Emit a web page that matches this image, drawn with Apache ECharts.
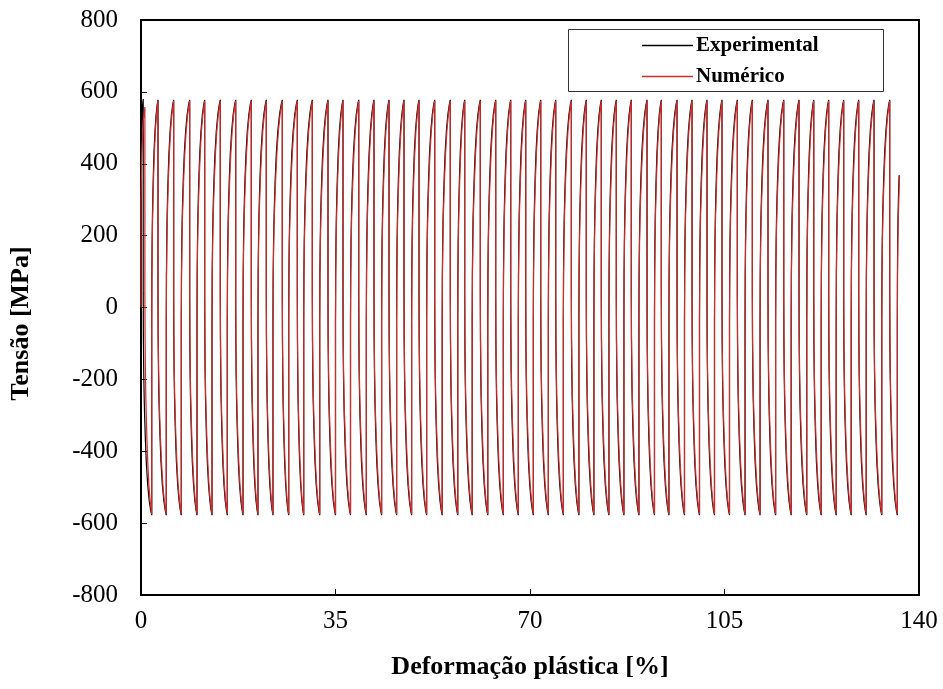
<!DOCTYPE html>
<html>
<head>
<meta charset="utf-8">
<script src="https://cdn.jsdelivr.net/npm/echarts@6/dist/echarts.min.js"></script>
<style>
html,body{margin:0;padding:0;background:#fff;}
#chart{width:943px;height:689px;}
</style>
</head>
<body>
<div id="chart"></div>
<script>
// ---- data ----
var xTicks = [0, 35, 70, 105, 140];
var yTicks = [-800, -600, -400, -200, 0, 200, 400, 600, 800];

// peak strains (stress ~ +575 MPa) of each cycle after the first loading
var peakX = [3.06, 5.88, 8.76, 11.46, 14.27, 17.04, 19.85, 22.55, 25.43, 28.13,
  30.83, 33.65, 36.35, 39.18, 41.93, 44.63, 47.33, 50.03, 52.85, 55.66,
  58.25, 61.06, 63.83, 66.53, 69.23, 71.93, 74.63, 77.44, 80.13, 82.83,
  85.53, 88.23, 91.06, 93.63, 96.46, 99.16, 101.85, 104.55, 107.31, 110.01,
  112.83, 115.66, 118.41, 121.06, 123.75, 126.45, 129.15, 131.91, 134.73];
// trough strains (stress ~ -575 MPa)
var troughX = [1.93, 4.55, 7.25, 10.08, 12.78, 15.53, 18.36, 21.05, 23.75, 26.58,
  29.28, 32.16, 35.0, 37.7, 40.55, 43.3, 46.0, 48.7, 51.4, 54.2,
  57.0, 59.6, 62.4, 65.2, 67.9, 70.6, 73.3, 76.0, 78.8, 81.5,
  84.2, 86.9, 89.6, 92.4, 95.0, 97.8, 100.5, 103.2, 105.9, 108.7,
  111.4, 114.2, 117.0, 119.8, 122.4, 125.1, 127.8, 130.5, 133.3, 136.1];

// half-cycle shape (fraction of half-cycle strain, stress) for the rising branch
var expShapeF = [0, 0, 0.02, 0.06, 0.11, 0.17, 0.25, 0.36, 0.52, 0.7, 0.87, 1];
var expShapeS = [-575, -40, 90, 180, 250, 305, 365, 430, 492, 537, 564, 578];
var numShapeF = [0, 0, 0.03, 0.08, 0.14, 0.21, 0.3, 0.42, 0.58, 0.75, 0.9, 1];
var numShapeS = [-575, -40, 90, 180, 250, 305, 365, 430, 492, 535, 562, 575];

// first loading (monotonic) of each series
var expStartX = [0, 0, 0.1, 0.25, 0.4];
var expStartY = [0, 290, 480, 560, 580];
var numStartX = [0, 0, 0.15, 0.4, 0.7];
var numStartY = [0, 300, 430, 520, 558];

// last, partial rising branch
var expEndX = [136.1, 136.12, 136.16, 136.22, 136.3, 136.42];
var expEndY = [-40, 90, 180, 250, 305, 368];
var numEndX = [136.1, 136.14, 136.2, 136.28, 136.38, 136.5];
var numEndY = [-40, 90, 180, 250, 305, 368];

function build(startX, startY, shapeF, shapeS, endX, endY) {
  var d = [];
  for (var i = 0; i < startX.length; i++) d.push([startX[i], startY[i]]);
  var peaks = [startX[startX.length - 1]].concat(peakX);
  for (var c = 0; c < troughX.length; c++) {
    var p = peaks[c], b = troughX[c], k;
    for (k = 1; k < shapeF.length; k++) d.push([p + shapeF[k] * (b - p), -shapeS[k]]);
    if (c + 1 < peaks.length) {
      var p2 = peaks[c + 1];
      for (k = 1; k < shapeF.length; k++) d.push([b + shapeF[k] * (p2 - b), shapeS[k]]);
    }
  }
  for (var j = 0; j < endX.length; j++) d.push([endX[j], endY[j]]);
  return d;
}

var expData = build(expStartX, expStartY, expShapeF, expShapeS, expEndX, expEndY);
var numData = build(numStartX, numStartY, numShapeF, numShapeS, numEndX, numEndY);

var FONT = '"Liberation Serif", "Times New Roman", serif';
var chart = echarts.init(document.getElementById('chart'), null, {renderer: 'canvas'});
chart.setOption({
  animation: false,
  backgroundColor: '#fff',
  grid: {left: 141, right: 24, top: 20, bottom: 94, show: true, borderColor: '#000', borderWidth: 2, backgroundColor: 'transparent'},
  xAxis: {
    type: 'value', min: xTicks[0], max: xTicks[xTicks.length - 1], interval: 35,
    name: 'Deformação plástica [%]', nameLocation: 'middle', nameGap: 59,
    nameTextStyle: {fontFamily: FONT, fontWeight: 'bold', fontSize: 26, color: '#000'},
    axisLine: {show: true, onZero: false, lineStyle: {color: '#000', width: 2}},
    axisTick: {show: true, inside: true, length: 6, lineStyle: {color: '#000', width: 1}},
    axisLabel: {fontFamily: FONT, fontSize: 25, color: '#000', margin: 14},
    splitLine: {show: false}
  },
  yAxis: {
    type: 'value', min: yTicks[0], max: yTicks[yTicks.length - 1], interval: 200,
    name: 'Tensão [MPa]', nameLocation: 'middle', nameGap: 107, nameRotate: 90,
    nameTextStyle: {fontFamily: FONT, fontWeight: 'bold', fontSize: 26, color: '#000', padding: [0, 32, 0, 0]},
    axisLine: {show: true, onZero: false, lineStyle: {color: '#000', width: 2}},
    axisTick: {show: true, inside: true, length: 6, lineStyle: {color: '#000', width: 1}},
    axisLabel: {fontFamily: FONT, fontSize: 25, color: '#000', margin: 23},
    splitLine: {show: false}
  },
  legend: {
    orient: 'vertical', left: 637, top: 30, itemWidth: 51, itemHeight: 1.5, itemGap: 10,
    icon: 'rect',
    textStyle: {fontFamily: FONT, fontWeight: 'bold', fontSize: 21, color: '#000', padding: [0, 0, 0, -2]},
    data: ['Experimental', 'Numérico'], z: 10
  },
  graphic: [{
    type: 'rect', left: 568, top: 29, z: 5,
    shape: {width: 315, height: 62},
    style: {fill: '#fff', stroke: '#333', lineWidth: 1}
  }],
  series: [
    {name: 'Experimental', type: 'line', data: expData, showSymbol: false, symbol: 'none',
     lineStyle: {color: '#000', width: 1.2}, itemStyle: {color: '#000'}, z: 2},
    {name: 'Numérico', type: 'line', data: numData, showSymbol: false, symbol: 'none',
     lineStyle: {color: '#cf2c2c', width: 1.2}, itemStyle: {color: '#cf2c2c'}, z: 3}
  ]
});
</script>
</body>
</html>
